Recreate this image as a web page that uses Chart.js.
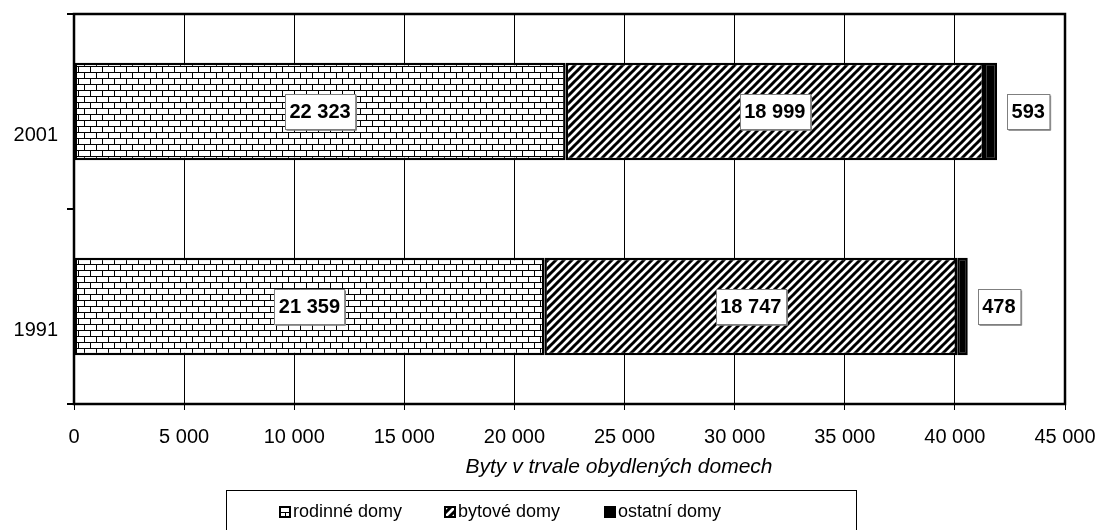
<!DOCTYPE html>
<html>
<head>
<meta charset="utf-8">
<script src="https://cdn.jsdelivr.net/npm/chart.js@4/dist/chart.umd.min.js"></script>
<style>
html,body{margin:0;padding:0;background:#fff;}
#wrap{position:relative;width:1101px;height:530px;overflow:hidden;}
#c{position:absolute;left:0;top:0;}
#legend{position:absolute;left:226px;top:490px;width:629px;height:40px;border:1px solid #000;border-bottom:none;box-sizing:content-box;font-family:"Liberation Sans",Arial,sans-serif;font-size:18px;color:#000;}
.item{position:absolute;top:9px;height:22px;line-height:22px;white-space:nowrap;}
.item canvas{vertical-align:-1px;margin-right:2px;}
</style>
</head>
<body>
<div id="wrap">
<canvas id="c" width="1101" height="530"></canvas>
<div id="legend"></div>
</div>
<script>
// ---- data ----
const categories = ['2001', '1991'];
const seriesNames = ['rodinné domy', 'bytové domy', 'ostatní domy'];
const rodinne = [22323, 21359];
const bytove = [18999, 18747];
const ostatni = [593, 478];
const xTicks = [0, 5000, 10000, 15000, 20000, 25000, 30000, 35000, 40000, 45000];
const axisTitle = 'Byty v trvale obydlených domech';

const FONT = '"Liberation Sans", Arial, sans-serif';
const fmt = n => String(n).replace(/\B(?=(\d{3})+(?!\d))/g, ' ');

// ---- patterns ----
function brickTile() {
  const t = document.createElement('canvas');
  t.width = 12; t.height = 12;
  const g = t.getContext('2d');
  g.fillStyle = '#fff'; g.fillRect(0, 0, 12, 12);
  g.fillStyle = '#000';
  g.fillRect(0, 0, 12, 1);
  g.fillRect(0, 6, 12, 1);
  g.fillRect(0, 0, 1, 6);
  g.fillRect(6, 6, 1, 6);
  return t;
}
function hatchTile() {
  const s = 8;
  const t = document.createElement('canvas');
  t.width = s; t.height = s;
  const g = t.getContext('2d');
  g.fillStyle = '#fff'; g.fillRect(0, 0, s, s);
  g.strokeStyle = '#000'; g.lineWidth = 3; g.lineCap = 'square';
  g.beginPath();
  g.moveTo(-1, s + 1); g.lineTo(s + 1, -1);
  g.moveTo(-1, 1); g.lineTo(1, -1);
  g.moveTo(s - 1, s + 1); g.lineTo(s + 1, s - 1);
  g.stroke();
  return t;
}
const ctx = document.getElementById('c').getContext('2d');
const brick = ctx.createPattern(brickTile(), 'repeat');
const hatch = ctx.createPattern(hatchTile(), 'repeat');
const fills = [brick, hatch, '#000'];

// ---- legend (HTML) ----
const legendPos = [52, 217, 377];
const legend = document.getElementById('legend');
seriesNames.forEach((name, i) => {
  const d = document.createElement('span');
  d.className = 'item';
  d.style.left = legendPos[i] + 'px';
  const ic = document.createElement('canvas');
  ic.width = 12; ic.height = 12;
  const g = ic.getContext('2d');
  g.fillStyle = i === 0 ? g.createPattern(brickTile(), 'repeat') : i === 1 ? g.createPattern(hatchTile(), 'repeat') : '#000';
  g.fillRect(0, 0, 12, 12);
  g.strokeStyle = '#000'; g.lineWidth = 2; g.strokeRect(1, 1, 10, 10);
  d.appendChild(ic);
  d.appendChild(document.createTextNode(name));
  legend.appendChild(d);
});

// ---- plugins ----
const frame = {
  id: 'frame',
  afterDatasetsDraw(chart) {
    const a = chart.chartArea, c = chart.ctx;
    c.save();
    c.strokeStyle = '#000'; c.lineWidth = 2.5;
    c.strokeRect(a.left, a.top, a.right - a.left, a.bottom - a.top);
    c.restore();
  }
};
const valueLabels = {
  id: 'valueLabels',
  afterDraw(chart) {
    const c = chart.ctx;
    c.save();
    c.font = 'bold 20px ' + FONT;
    c.textAlign = 'center';
    c.textBaseline = 'middle';
    chart.data.datasets.forEach((ds, di) => {
      const meta = chart.getDatasetMeta(di);
      meta.data.forEach((el, i) => {
        const p = el.getProps(['x', 'y', 'base'], true);
        const txt = fmt(ds.data[i]);
        const w = c.measureText(txt).width + 9;
        const h = 35;
        const cx = di < 2 ? (p.x + p.base) / 2 : p.x + 10 + w / 2;
        const cy = p.y;
        const l = Math.round(cx - w / 2) + 0.5, t = Math.round(cy - h / 2) + 0.5;
        c.fillStyle = '#fff';
        c.fillRect(l, t, w, h);
        c.strokeStyle = '#7f7f7f'; c.lineWidth = 1;
        c.strokeRect(l, t, w, h);
        c.beginPath();
        c.moveTo(l + 1, t + h + 0.8); c.lineTo(l + w + 0.8, t + h + 0.8); c.lineTo(l + w + 0.8, t + 1);
        c.stroke();
        c.fillStyle = '#000';
        c.fillText(txt, cx, cy + 1);
      });
    });
    // axis title
    c.font = 'italic 21px ' + FONT;
    c.fillText(axisTitle, 619, 467);
    c.restore();
  }
};

new Chart(ctx, {
  type: 'bar',
  data: {
    labels: categories,
    datasets: [
      { label: seriesNames[0], data: rodinne, backgroundColor: fills[0] },
      { label: seriesNames[1], data: bytove, backgroundColor: fills[1] },
      { label: seriesNames[2], data: ostatni, backgroundColor: fills[2] }
    ].map(d => Object.assign(d, { borderColor: '#000', borderWidth: 2.5, borderSkipped: false, barPercentage: 0.5, categoryPercentage: 1 }))
  },
  options: {
    indexAxis: 'y',
    responsive: false,
    animation: false,
    devicePixelRatio: 1,
    layout: { padding: { left: 0, top: 14, right: 36, bottom: 50 } },
    plugins: { legend: { display: false }, tooltip: { enabled: false } },
    scales: {
      x: {
        stacked: true,
        min: 0, max: 45000,
        afterBuildTicks(s) { s.ticks = xTicks.map(v => ({ value: v })); },
        afterFit(s) { s.height = 76; s.paddingLeft = 0; s.paddingRight = 0; },
        grid: { color: '#000', lineWidth: 1, drawTicks: true, tickLength: 6, tickColor: '#000' },
        border: { display: false },
        ticks: { color: '#000', font: { family: FONT, size: 20 }, padding: 15, maxRotation: 0, autoSkip: false, callback: v => fmt(v) }
      },
      y: {
        stacked: true,
        afterFit(s) { s.width = 74; s.paddingTop = 0; s.paddingBottom = 0; },
        grid: { drawOnChartArea: false, drawTicks: true, tickLength: 7, tickColor: '#000', lineWidth: 2, offset: true },
        border: { display: false },
        ticks: { color: '#000', font: { family: FONT, size: 20 }, padding: 9, labelOffset: 24 }
      }
    }
  },
  plugins: [frame, valueLabels]
});
</script>
</body>
</html>
